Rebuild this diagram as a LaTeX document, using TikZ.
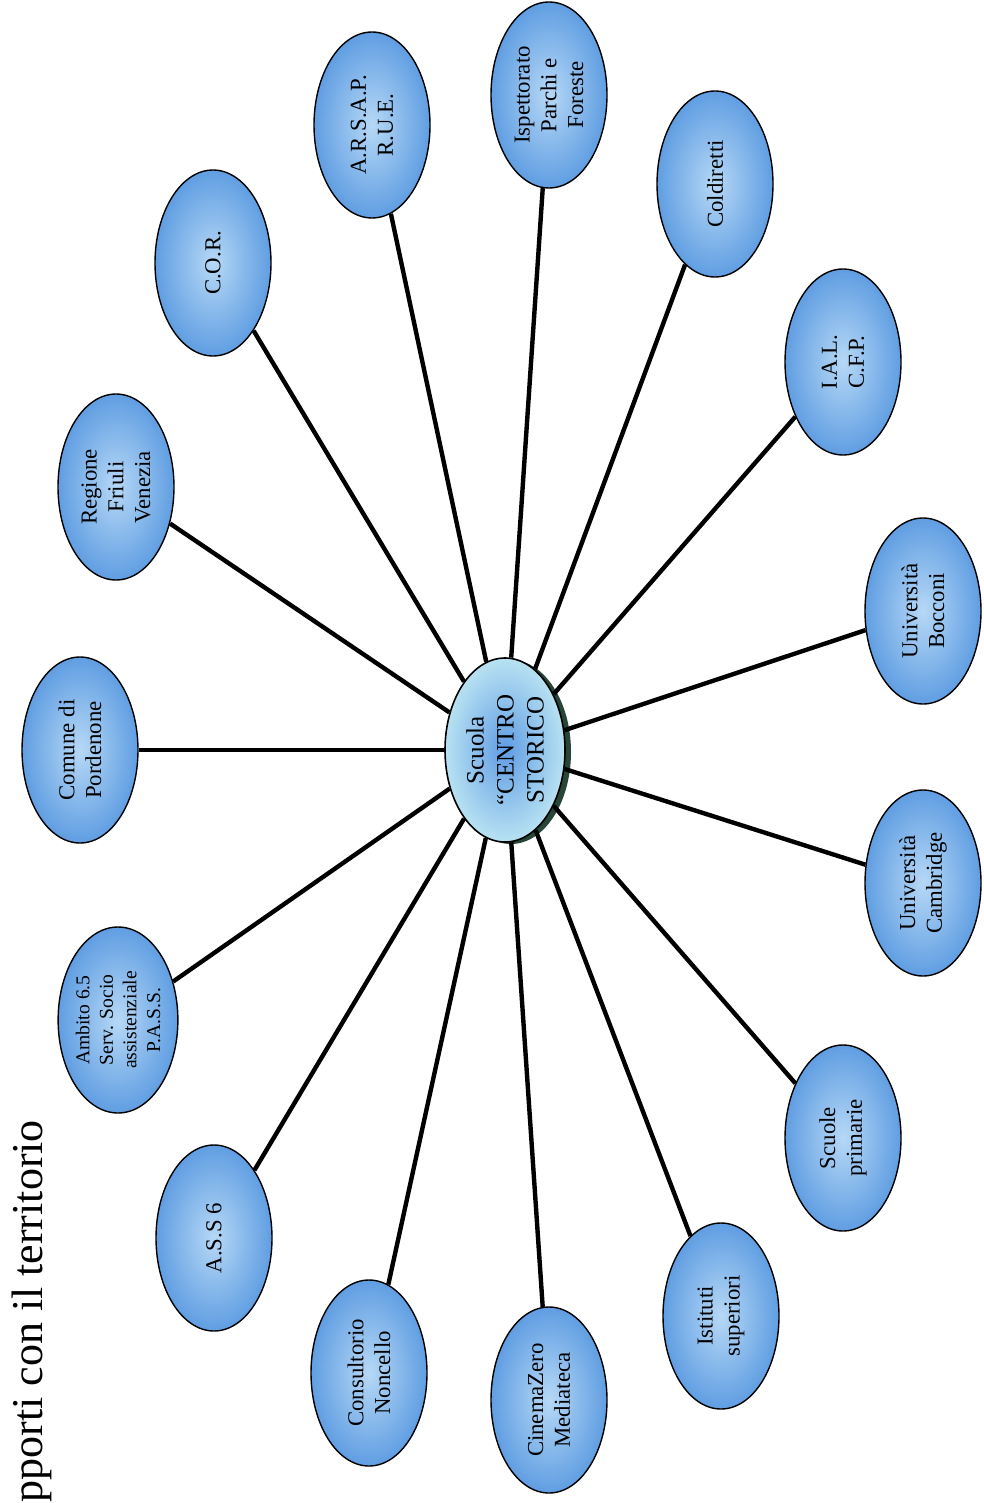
\documentclass[tikz,border=0pt]{standalone}
\usepackage{fontspec}
\setmainfont{Liberation Serif}
\usetikzlibrary{shapes.geometric}
\definecolor{nodein}{RGB}{182,216,246}
\definecolor{nodeout}{RGB}{96,158,226}
\definecolor{cin}{RGB}{96,156,228}
\definecolor{cout}{RGB}{184,226,242}
\definecolor{shadowc}{RGB}{40,70,55}
\tikzset{
  org/.style={ellipse, draw=black, line width=0.7pt, minimum width=93pt, minimum height=58pt,
    inner sep=0pt, rotate=90, shading=radial, inner color=nodein, outer color=nodeout,
    align=center, font=\fontsize{11.4}{13.4}\selectfont},
  small/.style={font=\fontsize{9.8}{11.8}\selectfont},
  hub/.style={ellipse, draw=black, line width=0.8pt, minimum width=92pt, minimum height=60pt,
    inner sep=0pt, rotate=90, shading=radial, inner color=cin, outer color=cout,
    align=center, font=\fontsize{12.5}{15}\selectfont},
  hubshadow/.style={ellipse, fill=shadowc, minimum width=92pt, minimum height=60pt, inner sep=0pt, rotate=90},
  link/.style={line width=2.2pt, black},
}
\begin{document}
\begin{tikzpicture}[x=0.5pt,y=-0.5pt]
\useasboundingbox (0,0) rectangle (984,1503);
\fill[white] (0,0) rectangle (984,1503);
% title
\node[rotate=90, anchor=base west, inner sep=0pt, font=\fontsize{22}{26}\selectfont] (title) at (42,1503) {pporti con il territorio};
% hub
\node[hubshadow] (cs) at (511,752) {};
\node[hub] (c) at (505,750) {Scuola\\“CENTRO\\STORICO};
% outer nodes
\node[org] (n1) at (80,750) {Comune di\\Pordenone};
\node[org] (n2) at (116,487) {Regione\\Friuli\\Venezia};
\node[org] (n3) at (213,263) {C.O.R.};
\node[org] (n4) at (372,125) {A.R.S.A.P.\\R.U.E.};
\node[org] (n5) at (549,95) {Ispettorato\\Parchi e\\Foreste};
\node[org] (n6) at (715,184) {Coldiretti};
\node[org] (n7) at (843,362) {I.A.L.\\C.F.P.};
\node[org] (n8) at (923,611) {Università\\Bocconi};
\node[org] (n9) at (923,883) {Università\\Cambridge};
\node[org] (n10) at (843,1138) {Scuole\\primarie};
\node[org] (n11) at (721,1316) {Istituti\\superiori};
\node[org] (n12) at (549,1400) {CinemaZero\\Mediateca};
\node[org] (n13) at (369,1373) {Consultorio\\Noncello};
\node[org] (n14) at (214,1238) {A.S.S 6};
\node[org, small] (n15) at (118,1020) {Ambito 6.5\\Serv. Socio\\assistenziale\\P.A.S.S.};
% links
\foreach \n in {n1,n2,n3,n4,n5,n6,n7,n8,n9,n10,n11,n12,n13,n14,n15}
  \draw[link] (c) -- (\n);
\end{tikzpicture}
\end{document}
